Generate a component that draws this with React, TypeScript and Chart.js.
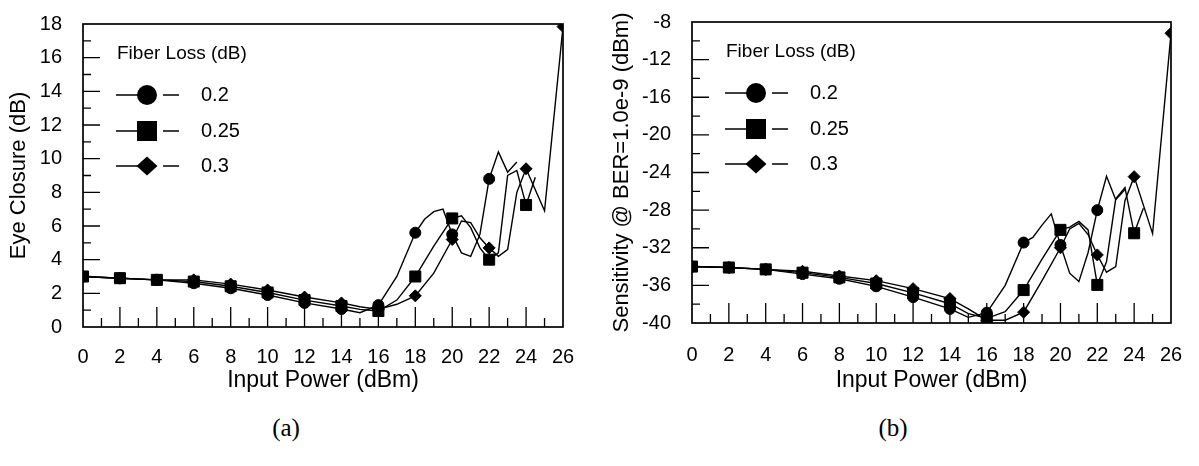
import React, { useEffect, useRef } from "react";
import { Chart, registerables } from "chart.js";

Chart.register(...registerables);

const FONT = "'Liberation Sans', Arial, Helvetica, sans-serif";
const SERIF = "'Liberation Serif', 'Times New Roman', serif";

const X_LABEL = "Input Power (dBm)";
const LEGEND_TITLE = "Fiber Loss (dB)";
const SERIES_LABELS = ["0.2", "0.25", "0.3"];
const SERIES_STYLES = ["circle", "rect", "rectRot"];

// Panel (a): Eye Closure (dB)
const eyeX02 = [0, 2, 4, 6, 8, 10, 12, 14, 15, 16, 17, 18, 18.5, 19, 19.5, 20, 20.5, 21, 21.5, 22, 22.5, 23, 23.5];
const eyeY02 = [3.0, 2.9, 2.8, 2.6, 2.3, 1.9, 1.43, 1.07, 0.85, 1.3, 3.0, 5.6, 6.4, 6.85, 7.0, 5.5, 4.4, 4.2, 5.5, 8.8, 10.4, 9.2, 9.8];
const eyeX025 = [0, 2, 4, 6, 8, 10, 12, 14, 15, 16, 17, 18, 19, 20, 20.5, 21, 21.5, 22, 22.5, 23, 23.5, 24, 24.5];
const eyeY025 = [3.0, 2.9, 2.8, 2.7, 2.42, 2.05, 1.6, 1.25, 1.05, 0.95, 1.6, 3.0, 4.8, 6.45, 6.6, 5.9, 4.7, 4.0, 4.4, 9.0, 9.3, 7.25, 8.9];
const eyeX03 = [0, 2, 4, 6, 8, 10, 12, 14, 15, 16, 17, 18, 19, 20, 20.5, 21, 21.5, 22, 22.5, 23, 23.5, 24, 25, 26];
const eyeY03 = [3.0, 2.9, 2.8, 2.8, 2.55, 2.2, 1.78, 1.43, 1.2, 1.05, 1.35, 1.85, 3.2, 5.2, 6.3, 6.2, 5.3, 4.7, 4.2, 4.6, 8.0, 9.4, 6.9, 17.85];

// Panel (b): Sensitivity @ BER=1.0e-9 (dBm)
const senX02 = [0, 2, 4, 6, 8, 10, 12, 14, 15, 16, 17, 18, 18.5, 19, 19.5, 20, 20.5, 21, 21.5, 22, 22.5, 23, 23.5];
const senY02 = [-34.0, -34.1, -34.3, -34.8, -35.3, -36.1, -37.25, -38.5, -39.4, -38.9, -36.0, -31.45, -30.9, -29.6, -28.4, -31.7, -34.7, -35.6, -32.5, -28.0, -24.4, -26.9, -25.8];
const senX025 = [0, 2, 4, 6, 8, 10, 12, 14, 15, 16, 17, 18, 19, 20, 20.5, 21, 21.5, 22, 22.5, 23, 23.5, 24, 24.5];
const senY025 = [-34.0, -34.1, -34.3, -34.65, -35.15, -35.8, -36.8, -37.95, -39.0, -39.5, -38.8, -36.5, -33.2, -30.1, -29.8, -29.2, -30.1, -35.95, -33.5, -26.8, -25.6, -30.46, -27.8];
const senX03 = [0, 2, 4, 6, 8, 10, 12, 14, 15, 16, 17, 18, 19, 20, 20.5, 21, 21.5, 22, 22.5, 23, 23.5, 24, 25, 26];
const senY03 = [-34.0, -34.1, -34.3, -34.5, -35.0, -35.5, -36.35, -37.4, -38.5, -39.7, -39.7, -38.85, -35.5, -32.0, -30.0, -29.4, -30.6, -32.76, -34.6, -34.0, -27.0, -24.44, -30.5, -9.2];

const POINT_RADII = [5.5, 7.8, 6];
const DRAW_ORDER = [1, 0, 2];

function drawLegendMarker(ctx: CanvasRenderingContext2D, style: string, x: number, y: number) {
  ctx.beginPath();
  if (style === "circle") {
    ctx.arc(x, y, 10, 0, Math.PI * 2);
  } else if (style === "rect") {
    ctx.rect(x - 10, y - 10, 20, 20);
  } else {
    ctx.moveTo(x, y - 9.5);
    ctx.lineTo(x + 10.5, y);
    ctx.lineTo(x, y + 9.5);
    ctx.lineTo(x - 10.5, y);
    ctx.closePath();
  }
  ctx.fill();
}

const frameTicksPlugin = {
  id: "frameTicks",
  beforeDatasetsDraw(chart: any, _args: any, opts: any) {
    const { ctx, chartArea: a, scales } = chart;
    const xs = scales.x;
    const ys = scales.y;
    ctx.save();
    ctx.strokeStyle = "#000";
    ctx.lineWidth = 1.3;
    ctx.beginPath();
    const nx = Math.round((xs.max - xs.min) / opts.xMinor);
    for (let i = 1; i < nx; i++) {
      const v = xs.min + i * opts.xMinor;
      const px = xs.getPixelForValue(v);
      const major = i % Math.round(opts.xMajor / opts.xMinor) === 0;
      const len = major ? opts.xMajorLen : opts.xMinorLen;
      ctx.moveTo(px, a.bottom);
      ctx.lineTo(px, a.bottom - len);
    }
    const ny = Math.round((ys.max - ys.min) / opts.yMinor);
    for (let i = 1; i < ny; i++) {
      const v = ys.min + i * opts.yMinor;
      const py = ys.getPixelForValue(v);
      const major = i % Math.round(opts.yMajor / opts.yMinor) === 0;
      const len = major ? opts.yMajorLen : opts.yMinorLen;
      ctx.moveTo(a.left, py);
      ctx.lineTo(a.left + len, py);
    }
    ctx.stroke();
    ctx.lineWidth = 1.7;
    ctx.strokeRect(a.left, a.top, a.right - a.left, a.bottom - a.top);
    ctx.restore();
  },
  afterDatasetsDraw(chart: any, _args: any, opts: any) {
    const { ctx, chartArea: a } = chart;
    ctx.save();
    ctx.fillStyle = "#000";
    ctx.strokeStyle = "#000";
    ctx.textBaseline = "middle";
    ctx.textAlign = "left";
    ctx.font = `19px ${FONT}`;
    ctx.fillText(LEGEND_TITLE, a.left + 34, a.top + 30);
    const rows = [71, 107, 142];
    ctx.lineWidth = 1.3;
    SERIES_LABELS.forEach((lab, i) => {
      const y = a.top + rows[i];
      ctx.beginPath();
      ctx.moveTo(a.left + 33, y);
      ctx.lineTo(a.left + 63, y);
      ctx.moveTo(a.left + 80, y);
      ctx.lineTo(a.left + 96, y);
      ctx.stroke();
      drawLegendMarker(ctx, SERIES_STYLES[i], a.left + 64, y);
      ctx.font = `20px ${FONT}`;
      ctx.fillText(lab, a.left + 118, y);
    });
    ctx.restore();
  },
};

type PanelProps = {
  left: number;
  width: number;
  xs: number[][];
  ys: number[][];
  yMin: number;
  yMax: number;
  yMajor: number;
  yMinor: number;
  yTitle: string;
  yAxisWidth: number;
  yTitlePad: number;
  padTop: number;
  padRight: number;
  xAxisHeight: number;
  xTickPad: number;
};

function Panel(p: PanelProps) {
  const ref = useRef<HTMLCanvasElement | null>(null);
  useEffect(() => {
    if (!ref.current) return;
    const datasets = p.xs.map((xArr, si) => ({
      label: SERIES_LABELS[si],
      data: xArr.map((x, i) => ({ x, y: p.ys[si][i] })),
      showLine: true,
      borderColor: "#000",
      backgroundColor: "#000",
      borderWidth: 1.4,
      pointStyle: SERIES_STYLES[si],
      pointBackgroundColor: "#000",
      pointBorderColor: "#000",
      pointBorderWidth: 1,
      pointRadius: (c: any) => {
        const x = c.raw ? c.raw.x : NaN;
        return x % 2 === 0 ? POINT_RADII[si] : 0;
      },
      pointHoverRadius: 0,
      tension: 0,
      fill: false,
      order: DRAW_ORDER[si],
    }));
    const chart = new Chart(ref.current, {
      type: "scatter",
      data: { datasets },
      plugins: [frameTicksPlugin],
      options: {
        responsive: false,
        animation: false,
        devicePixelRatio: 1,
        events: [],
        layout: { padding: { top: p.padTop, right: p.padRight, bottom: 0, left: 0 } },
        plugins: {
          legend: { display: false },
          tooltip: { enabled: false },
          frameTicks: {
            xMinor: 1,
            xMajor: 2,
            xMajorLen: 20,
            xMinorLen: 9,
            yMinor: p.yMinor,
            yMajor: p.yMajor,
            yMajorLen: 17,
            yMinorLen: 8,
          },
        } as any,
        scales: {
          x: {
            type: "linear",
            min: 0,
            max: 26,
            ticks: {
              stepSize: 2,
              color: "#000",
              font: { family: FONT, size: 20 },
              padding: p.xTickPad,
              maxRotation: 0,
              autoSkip: false,
            },
            grid: { display: false, drawTicks: false, tickLength: 0 },
            border: { display: false },
            title: {
              display: true,
              text: X_LABEL,
              color: "#000",
              font: { family: FONT, size: 23 },
              padding: { top: 0, bottom: 6 },
            },
            afterFit: (s: any) => {
              s.height = p.xAxisHeight;
              s.paddingLeft = 0;
              s.paddingRight = 0;
              s.paddingTop = 0;
              s.paddingBottom = 0;
            },
          },
          y: {
            type: "linear",
            min: p.yMin,
            max: p.yMax,
            ticks: {
              stepSize: p.yMajor,
              color: "#000",
              font: { family: FONT, size: 20 },
              padding: 21,
            },
            grid: { display: false, drawTicks: false, tickLength: 0 },
            border: { display: false },
            title: {
              display: true,
              text: p.yTitle,
              color: "#000",
              font: { family: FONT, size: 22 },
              padding: { top: p.yTitlePad, bottom: 0 },
            },
            afterFit: (s: any) => {
              s.width = p.yAxisWidth;
              s.paddingTop = 0;
              s.paddingBottom = 0;
              s.paddingLeft = 0;
              s.paddingRight = 0;
            },
          },
        },
      } as any,
    });
    return () => chart.destroy();
  }, []);
  return (
    <canvas
      ref={ref}
      width={p.width}
      height={400}
      style={{ position: "absolute", left: p.left, top: 0, width: p.width, height: 400 }}
    />
  );
}

export default function App() {
  return (
    <div
      style={{
        position: "fixed",
        left: 0,
        top: 0,
        width: 1199,
        height: 466,
        background: "#fff",
        overflow: "hidden",
      }}
    >
      <Panel
        left={0}
        width={590}
        xs={[eyeX02, eyeX025, eyeX03]}
        ys={[eyeY02, eyeY025, eyeY03]}
        yMin={0}
        yMax={18}
        yMajor={2}
        yMinor={1}
        yTitle="Eye Closure (dB)"
        yAxisWidth={83}
        yTitlePad={5.3}
        padTop={24}
        padRight={27}
        xAxisHeight={73}
        xTickPad={18}
      />
      <Panel
        left={590}
        width={609}
        xs={[senX02, senX025, senX03]}
        ys={[senY02, senY025, senY03]}
        yMin={-40}
        yMax={-8}
        yMajor={4}
        yMinor={2}
        yTitle="Sensitivity @ BER=1.0e-9 (dBm)"
        yAxisWidth={102}
        yTitlePad={18.3}
        padTop={22}
        padRight={28}
        xAxisHeight={77}
        xTickPad={20}
      />
      <div
        style={{
          position: "absolute",
          left: 286,
          top: 428,
          transform: "translate(-50%, -50%)",
          fontFamily: SERIF,
          fontSize: 25,
          color: "#000",
        }}
      >
        (a)
      </div>
      <div
        style={{
          position: "absolute",
          left: 893,
          top: 428,
          transform: "translate(-50%, -50%)",
          fontFamily: SERIF,
          fontSize: 25,
          color: "#000",
        }}
      >
        (b)
      </div>
    </div>
  );
}
